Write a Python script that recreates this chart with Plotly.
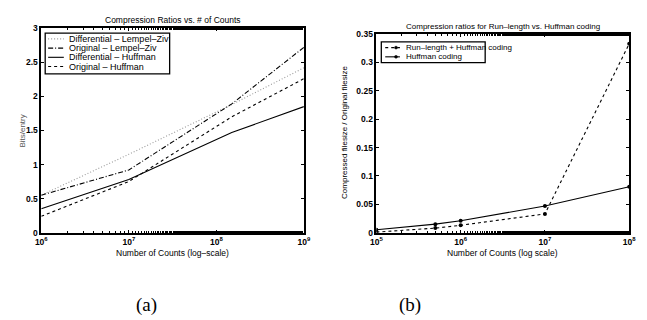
import plotly.graph_objects as go

# ---- Data: panel (a) ----
counts_a = [1e6, 1e7, 1.5e8, 1e9]
diff_lz = [0.55, 1.15, 1.88, 2.42]
orig_lz = [0.55, 0.92, 1.89, 2.72]
diff_huff = [0.35, 0.78, 1.47, 1.85]
orig_huff = [0.24, 0.75, 1.70, 2.26]
names_a = ["Differential \u2013 Lempel\u2013Ziv", "Original \u2013 Lempel\u2013Ziv",
           "Differential \u2013 Huffman", "Original \u2013 Huffman"]

# ---- Data: panel (b) ----
counts_b = [1e5, 5e5, 1e6, 1e7, 1e8]
rl_huff = [0.001, 0.008, 0.013, 0.033, 0.333]
huff = [0.005, 0.015, 0.021, 0.047, 0.081]
names_b = ["Run\u2013length + Huffman coding", "Huffman coding"]

W, H = 647, 320
FONT = "Liberation Sans, Arial, sans-serif"
SERIF = "Liberation Serif, Times New Roman, serif"

DOT = "1px,2px"
DASHDOT = "5px,2px,1px,2px"
DASH = "3px,3px"

styles_a = [dict(color="#9a9a9a", dash=DOT), dict(color="black", dash=DASHDOT),
            dict(color="black", dash="solid"), dict(color="black", dash=DASH)]
styles_b = [dict(color="black", dash=DASH), dict(color="black", dash="solid")]

line_w = 1.1
fig = go.Figure()
for ys, nm, st in zip([diff_lz, orig_lz, diff_huff, orig_huff], names_a, styles_a):
    fig.add_trace(go.Scatter(x=counts_a, y=ys, mode="lines", name=nm,
                             line=dict(color=st["color"], dash=st["dash"], width=line_w),
                             xaxis="x", yaxis="y", showlegend=False))
for ys, nm, st in zip([rl_huff, huff], names_b, styles_b):
    fig.add_trace(go.Scatter(x=counts_b, y=ys, mode="lines+markers", name=nm,
                             line=dict(color=st["color"], dash=st["dash"], width=line_w),
                             marker=dict(size=4, color="black"),
                             xaxis="x2", yaxis="y2", showlegend=False))


def px_x(p):
    return p / W


def px_y(p):
    return 1 - p / H


axis_common = dict(showline=True, linecolor="black", linewidth=1.6, mirror="ticks", ticks="inside",
                   ticklen=3, tickcolor="black", showgrid=False, zeroline=False,
                   tickfont=dict(family=FONT, size=8.5, color="black", weight="bold"))

a_x0, a_x1, a_y0, a_y1 = 36, 304, 24, 235
b_x0, b_x1, b_y0, b_y1 = 378, 636, 30, 235

fig.update_layout(
    width=W, height=H, margin=dict(l=0, r=0, t=0, b=0),
    paper_bgcolor="white", plot_bgcolor="white",
    font=dict(family=FONT, size=8, color="black"),
    showlegend=False,
    xaxis=dict(axis_common, type="log", domain=[px_x(a_x0), px_x(a_x1)], range=[6, 9],
               tickvals=[1e6, 1e7, 1e8, 1e9],
               ticktext=["10<sup>6</sup>", "10<sup>7</sup>", "10<sup>8</sup>", "10<sup>9</sup>"],
               minor=dict(ticks="inside", ticklen=2, tickcolor="black", showgrid=False), anchor="y"),
    yaxis=dict(axis_common, domain=[px_y(a_y1), px_y(a_y0)], range=[0, 3],
               tickvals=[0, 0.5, 1, 1.5, 2, 2.5, 3], ticktext=["0", "0.5", "1", "1.5", "2", "2.5", "3"],
               anchor="x"),
    xaxis2=dict(axis_common, type="log", domain=[px_x(b_x0), px_x(b_x1)], range=[5, 8],
                tickvals=[1e5, 1e6, 1e7, 1e8],
                ticktext=["10<sup>5</sup>", "10<sup>6</sup>", "10<sup>7</sup>", "10<sup>8</sup>"],
                minor=dict(ticks="inside", ticklen=2, tickcolor="black", showgrid=False), anchor="y2"),
    yaxis2=dict(axis_common, domain=[px_y(b_y1), px_y(b_y0)], range=[0, 0.35],
                tickvals=[0, 0.05, 0.1, 0.15, 0.2, 0.25, 0.3, 0.35],
                ticktext=["0", "0.05", "0.1", "0.15", "0.2", "0.25", "0.3", "0.35"], anchor="x2"),
)

shapes = []
annotations = []


def text(t, x, y, size=8.5, color="black", family=FONT, xanchor="center", angle=0):
    annotations.append(dict(text=t, x=px_x(x), y=px_y(y), xref="paper", yref="paper",
                            xanchor=xanchor, yanchor="middle", showarrow=False, textangle=angle,
                            borderpad=0, font=dict(family=family, size=size, color=color)))


# titles and axis titles
text("Compression Ratios vs. # of Counts", 170, 15)
text("Compression ratios for Run\u2013length vs. Huffman coding", 507, 22, size=8)
text("Number of Counts (log\u2013scale)", 170, 256)
text("Number of Counts (log scale)", 507, 256)
text("Bits/entry", 17, 130, size=8, color="#555555", angle=-90)
text("Compressed filesize / Original filesize", 346, 132, size=8, angle=-90)
text("(a)", 143, 310, size=19, family=SERIF)
text("(b)", 412, 310, size=19, family=SERIF)

# legend (a)
shapes.append(dict(type="rect", xref="paper", yref="paper", x0=px_x(40), x1=px_x(167),
                   y0=px_y(71), y1=px_y(29), line=dict(color="black", width=1.3), fillcolor="white",
                   layer="above"))
rows_a = [35, 44.5, 54, 63.5]
for nm, st, ry in zip(names_a, styles_a, rows_a):
    shapes.append(dict(type="line", xref="paper", yref="paper", x0=px_x(43), x1=px_x(59),
                       y0=px_y(ry), y1=px_y(ry), line=dict(color=st["color"], dash=st["dash"], width=1.1),
                       layer="above"))
    text(nm, 63, ry, size=9, xanchor="left")

# legend (b)
shapes.append(dict(type="rect", xref="paper", yref="paper", x0=px_x(383), x1=px_x(489),
                   y0=px_y(59.5), y1=px_y(38), line=dict(color="black", width=1.3), fillcolor="white",
                   layer="above"))
rows_b = [44, 53.5]
for nm, st, ry in zip(names_b, styles_b, rows_b):
    shapes.append(dict(type="line", xref="paper", yref="paper", x0=px_x(387), x1=px_x(402),
                       y0=px_y(ry), y1=px_y(ry), line=dict(color=st["color"], dash=st["dash"], width=1.1),
                       layer="above"))
    shapes.append(dict(type="circle", xref="paper", yref="paper", x0=px_x(396.5), x1=px_x(399.5),
                       y0=px_y(ry + 1.5), y1=px_y(ry - 1.5), line=dict(color="black", width=0.5),
                       fillcolor="black", layer="above"))
    text(nm, 407, ry, size=8, xanchor="left")

fig.update_layout(shapes=shapes, annotations=annotations)
fig.write_html("out.html")
